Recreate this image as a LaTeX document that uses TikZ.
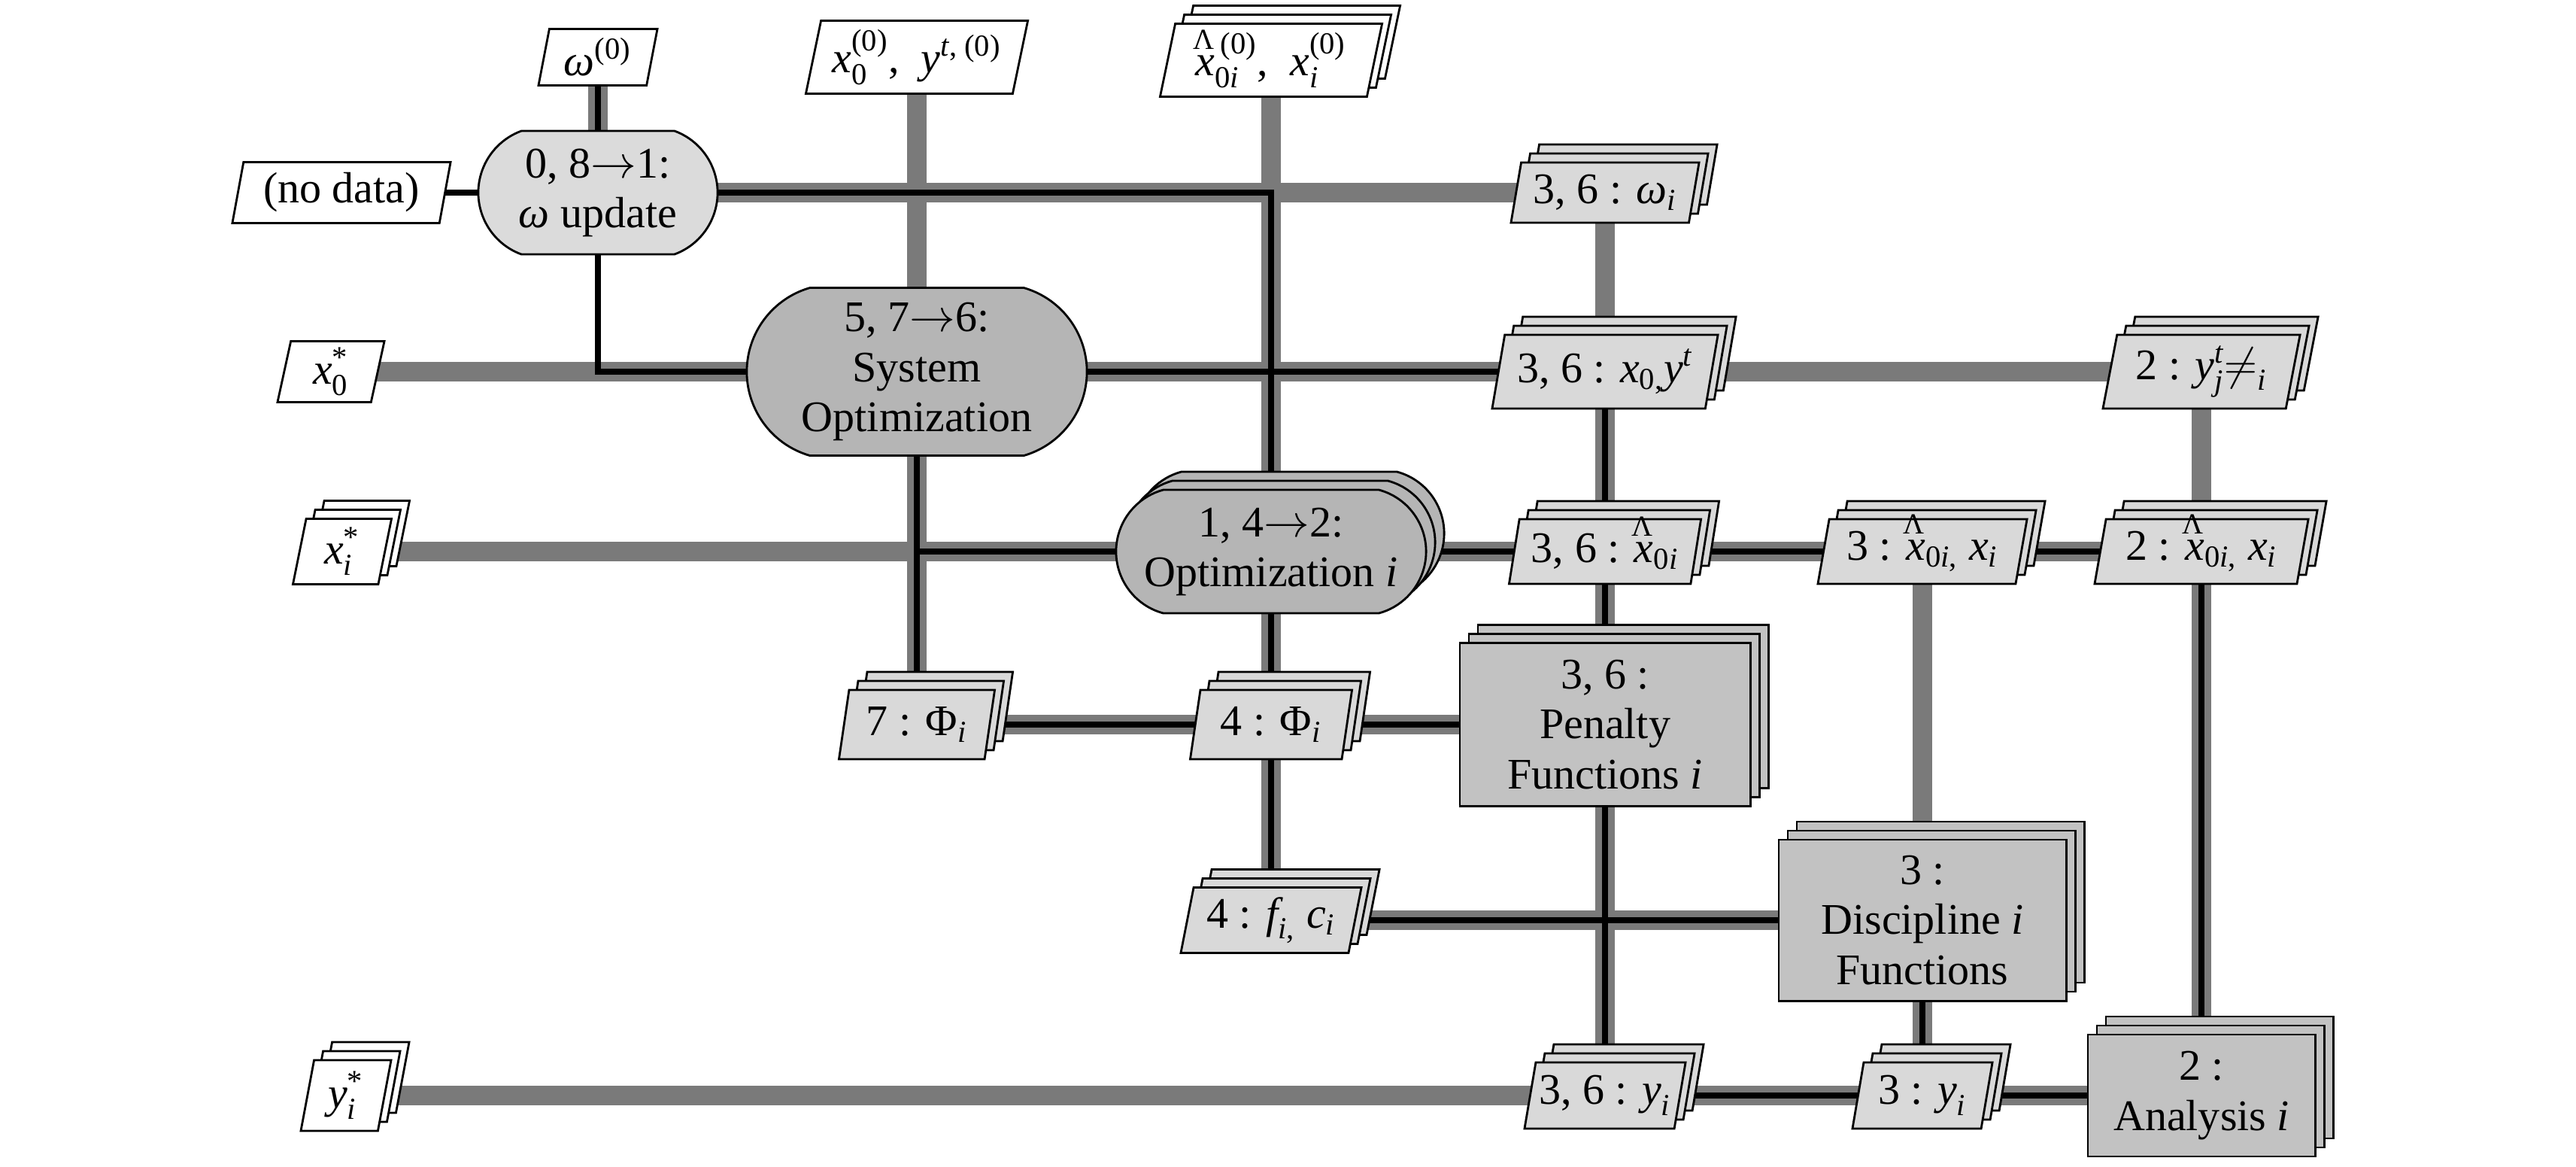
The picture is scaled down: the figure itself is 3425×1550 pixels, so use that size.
\documentclass[tikz,border=0pt]{standalone}
\usepackage{amsmath}
\usepackage{fontspec}
\setmainfont{Liberation Serif}
\usetikzlibrary{shapes.geometric,shapes.misc,shadows}
\pgfdeclarelayer{bglines}
\pgfdeclarelayer{fglines}
\pgfsetlayers{bglines,fglines,main}
\newcommand\iv[1]{\text{\itshape #1}}
\newcommand\tx[1]{\text{\upshape #1}}
\newcommand\xh{\text{\itshape x\llap{\smash{\raisebox{0.6em}{\upshape\fontsize{11}{11}\selectfont Λ\kern0.3pt}}}}}
\newcommand\ar{$\rightarrow$}
\definecolor{lnk}{gray}{0.48}
\definecolor{datf}{gray}{0.85}
\definecolor{funf}{gray}{0.76}
\definecolor{optf}{gray}{0.71}
\definecolor{drvf}{gray}{0.86}
\tikzset{
  lbl/.style={font=\fontsize{16.5}{18.8}\selectfont, align=center},
  para/.style={lbl, trapezium, trapezium left angle=76, trapezium right angle=104,
    trapezium stretches body, draw, line width=0.8pt, inner sep=1pt},
  stk/.style={copy shadow={shadow xshift=2.4mm,shadow yshift=2.4mm,fill=#1,draw=black,line width=0.8pt},
              copy shadow={shadow xshift=1.2mm,shadow yshift=1.2mm,fill=#1,draw=black,line width=0.8pt}},
  inp/.style={para, fill=white},
  dat/.style={para, fill=datf},
  fun/.style={lbl, rectangle, draw, line width=0.8pt, fill=funf},
  optbox/.style={lbl, rounded rectangle, draw, line width=0.8pt, fill=optf, inner xsep=2pt},
  dline/.style={line width=0.26cm, draw=lnk},
  pline/.style={line width=0.08cm, draw=black},
}
\begin{document}
\begin{tikzpicture}[x=0.01cm,y=-0.01cm]
\path[use as bounding box] (0,0) rectangle (3425,1550);
% ---------- row 0: initial inputs
\node[inp, minimum width=1.58cm, minimum height=0.75cm] (w0) at (795,76)
  {$\iv{ω}^{\tx{(0)}}$};
\node[inp, minimum width=2.95cm, minimum height=0.97cm] (x00) at (1219,76)
  {$\iv{x}_{\tx{0}}^{\tx{(0)}}\tx{,}\ \ \iv{y}^{\iv{t}\tx{, (0)}}$};
\node[inp, stk=white, minimum width=2.95cm, minimum height=0.97cm] (xh0) at (1690,80)
  {$\xh_{\tx{0}\iv{i}}^{\,\tx{(0)}}\tx{,}\ \ \iv{x}_{\iv{i}}^{\tx{(0)}}$};
% ---------- row 1
\node[inp, minimum width=2.9cm, minimum height=0.81cm] (nodata) at (454,256) {(no data)};
\node[optbox, fill=drvf, rounded rectangle arc length=140, minimum width=3.32cm, minimum height=1.64cm] (wupd) at (795,256)
  {0, 8\ar1:\\{\itshape ω} update};
\node[dat, stk=datf, minimum width=2.5cm, minimum height=0.8cm] (w36) at (2134,256)
  {3, 6 : $\iv{ω}_{\iv{i}}$};
% ---------- row 2
\node[inp, minimum width=1.42cm, minimum height=0.81cm] (x0s) at (440,494)
  {$\iv{x}_{\tx{0}}^{\tx{*}}$};
\node[optbox, rounded rectangle arc length=148, minimum width=4.66cm, minimum height=2.23cm] (sysopt) at (1219,494)
  {5, 7\ar6:\\System\\Optimization};
\node[dat, stk=datf, minimum width=3.0cm, minimum height=0.98cm] (x036) at (2134,494)
  {3, 6 : $\iv{x}_{\tx{0,}}\iv{y}^{\iv{t}}$};
\node[dat, stk=datf, minimum width=2.62cm, minimum height=0.98cm] (y2t) at (2927,494)
  {2 : $\iv{y}^{\iv{t}}_{\iv{j}}{\neq}_{\iv{i}}$};
% ---------- row 3
\node[inp, stk=white, minimum width=1.31cm, minimum height=0.87cm] (xis) at (455,733)
  {$\iv{x}_{\iv{i}}^{\tx{*}}$};
\node[optbox, stk=optf, rounded rectangle arc length=150, minimum width=4.26cm, minimum height=1.64cm] (opti) at (1690,733)
  {1, 4\ar2:\\Optimization {\itshape i}};
\node[dat, stk=datf, minimum width=2.55cm, minimum height=0.86cm] (xh36) at (2134,733)
  {3, 6 : $\xh_{\tx{0}\iv{i}}$};
\node[dat, stk=datf, minimum width=2.78cm, minimum height=0.86cm] (xh3) at (2556,733)
  {3 : $\xh_{\tx{0}\iv{i}\tx{,}}\ \iv{x}_{\iv{i}}$};
\node[dat, stk=datf, minimum width=2.84cm, minimum height=0.86cm] (xh2) at (2927,733)
  {2 : $\xh_{\tx{0}\iv{i}\tx{,}}\ \iv{x}_{\iv{i}}$};
% ---------- row 4
\node[dat, stk=datf, minimum width=2.07cm, minimum height=0.92cm] (phi7) at (1219,963)
  {7 : $\tx{Φ}_{\iv{i}}$};
\node[dat, stk=datf, minimum width=2.15cm, minimum height=0.92cm] (phi4) at (1690,963)
  {4 : $\tx{Φ}_{\iv{i}}$};
\node[fun, stk=funf, minimum width=3.86cm, minimum height=2.17cm] (pen) at (2134,963)
  {3, 6 :\\Penalty\\Functions {\itshape i}};
% ---------- row 5
\node[dat, stk=datf, minimum width=2.4cm, minimum height=0.87cm] (fc4) at (1690,1223)
  {4 : $\iv{f}_{\iv{i}\tx{,}}\ \iv{c}_{\iv{i}}$};
\node[fun, stk=funf, minimum width=3.82cm, minimum height=2.14cm] (disc) at (2556,1223)
  {3 :\\Discipline {\itshape i}\\Functions};
% ---------- row 6
\node[inp, stk=white, minimum width=1.2cm, minimum height=0.94cm] (yis) at (460,1456)
  {$\iv{y}_{\iv{i}}^{\tx{*}}$};
\node[dat, stk=datf, minimum width=2.14cm, minimum height=0.88cm] (y36) at (2134,1456)
  {3, 6 : $\iv{y}_{\iv{i}}$};
\node[dat, stk=datf, minimum width=1.86cm, minimum height=0.88cm] (y3) at (2556,1456)
  {3 : $\iv{y}_{\iv{i}}$};
\node[fun, stk=funf, minimum width=3.02cm, minimum height=1.62cm] (ana) at (2927,1456)
  {2 :\\Analysis {\itshape i}};
\coordinate (j1) at (sysopt.center |- opti.center);
% ---------- data lines (gray)
\begin{pgfonlayer}{bglines}
\fill[white] (0,0) rectangle (3425,1550);
\draw[dline] (w0.center) -- (wupd.center);
\draw[dline] (wupd.center) -- (w36.center);
\draw[dline] (x00.center) -- (phi7.center);
\draw[dline] (xh0.center) -- (fc4.center);
\draw[dline] (w36.center) -- (y36.center);
\draw[dline] (x0s.center) -- (y2t.center);
\draw[dline] (y2t.center) -- (ana.center);
\draw[dline] (xis.center) -- (xh2.center);
\draw[dline] (xh3.center) -- (y3.center);
\draw[dline] (phi7.center) -- (pen.center);
\draw[dline] (fc4.center) -- (disc.center);
\draw[dline] (yis.center) -- (ana.center);
\end{pgfonlayer}
% ---------- process lines (black)
\begin{pgfonlayer}{fglines}
\draw[pline] (w0.center) -- (wupd.center);
\draw[pline] (nodata.center) -- (wupd.center);
\draw[pline] (wupd.center) -| (opti.center);
\draw[pline] (wupd.center) |- (sysopt.center);
\draw[pline] (sysopt.center) -- (x036.center);
\draw[pline] (sysopt.center) -- (phi7.center);
\draw[pline] (j1) -- (xh2.center);
\draw[pline] (opti.center) -- (fc4.center);
\draw[pline] (x036.center) -- (y36.center);
\draw[pline] (phi7.center) -- (pen.center);
\draw[pline] (fc4.center) -- (disc.center);
\draw[pline] (disc.center) -- (y3.center);
\draw[pline] (xh2.center) -- (ana.center);
\draw[pline] (y36.center) -- (ana.center);
\end{pgfonlayer}
\end{tikzpicture}
\end{document}
